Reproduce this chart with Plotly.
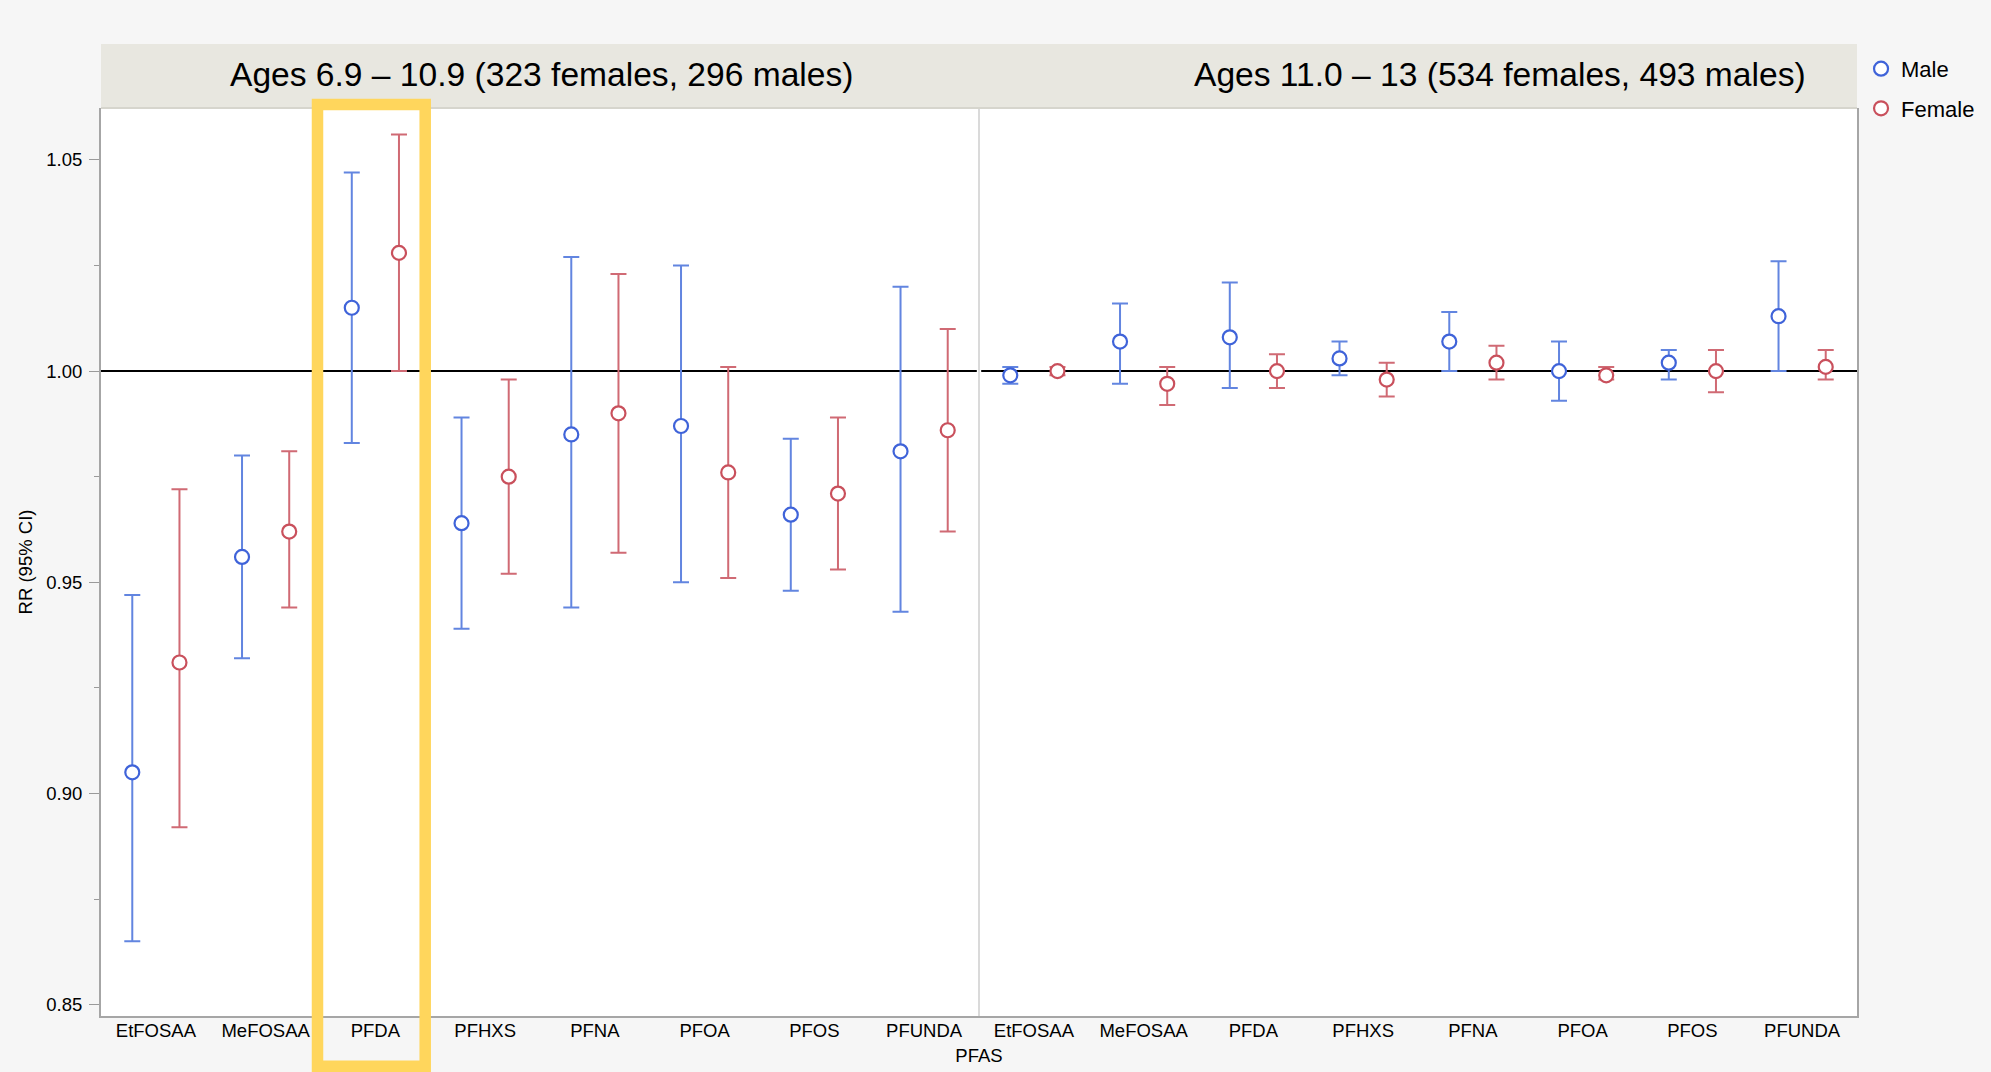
import plotly.graph_objects as go

# PFAS compounds shown in each age panel
pfas = ["EtFOSAA", "MeFOSAA", "PFDA", "PFHXS", "PFNA", "PFOA", "PFOS", "PFUNDA"]
panels = ["Ages 6.9 – 10.9 (323 females, 296 males)",
          "Ages 11.0 – 13 (534 females, 493 males)"]

# Rate ratios with 95% CI, ages 6.9-10.9
male_rr_young = [0.905, 0.956, 1.015, 0.964, 0.985, 0.987, 0.966, 0.981]
male_lo_young = [0.865, 0.932, 0.983, 0.939, 0.944, 0.950, 0.948, 0.943]
male_hi_young = [0.947, 0.980, 1.047, 0.989, 1.027, 1.025, 0.984, 1.020]
female_rr_young = [0.931, 0.962, 1.028, 0.975, 0.990, 0.976, 0.971, 0.986]
female_lo_young = [0.892, 0.944, 1.000, 0.952, 0.957, 0.951, 0.953, 0.962]
female_hi_young = [0.972, 0.981, 1.056, 0.998, 1.023, 1.001, 0.989, 1.010]

# Rate ratios with 95% CI, ages 11.0-13
male_rr_old = [0.999, 1.007, 1.008, 1.003, 1.007, 1.000, 1.002, 1.013]
male_lo_old = [0.997, 0.997, 0.996, 0.999, 1.000, 0.993, 0.998, 1.000]
male_hi_old = [1.001, 1.016, 1.021, 1.007, 1.014, 1.007, 1.005, 1.026]
female_rr_old = [1.000, 0.997, 1.000, 0.998, 1.002, 0.999, 1.000, 1.001]
female_lo_old = [0.999, 0.992, 0.996, 0.994, 0.998, 0.998, 0.995, 0.998]
female_hi_old = [1.001, 1.001, 1.004, 1.002, 1.006, 1.001, 1.005, 1.005]

y_ticks = [0.85, 0.90, 0.95, 1.00, 1.05]
y_tick_labels = ["0.85", "0.90", "0.95", "1.00", "1.05"]

BLUE_MARK = "#3f63d9"
BLUE_BAR = "#6285e0"
RED_MARK = "#c9505c"
RED_BAR = "#d06a74"
FONT = "Liberation Sans, Arial, sans-serif"

n = len(pfas)
slots = list(range(2 * n))
tick_text = pfas + pfas
offset = 0.215

def series(rr_a, lo_a, hi_a, rr_b, lo_b, hi_b):
    rr = rr_a + rr_b
    lo = lo_a + lo_b
    hi = hi_a + hi_b
    plus = [h - r for h, r in zip(hi, rr)]
    minus = [r - l for r, l in zip(rr, lo)]
    return rr, plus, minus

m_rr, m_plus, m_minus = series(male_rr_young, male_lo_young, male_hi_young,
                               male_rr_old, male_lo_old, male_hi_old)
f_rr, f_plus, f_minus = series(female_rr_young, female_lo_young, female_hi_young,
                               female_rr_old, female_lo_old, female_hi_old)

fig = go.Figure()
fig.add_trace(go.Scatter(
    x=[s - offset for s in slots], y=m_rr, mode="markers", name="Male",
    legendgroup="male",
    marker=dict(symbol="circle", size=14, color="white",
                line=dict(color=BLUE_MARK, width=2.2)),
    error_y=dict(type="data", symmetric=False, array=m_plus, arrayminus=m_minus,
                 color=BLUE_BAR, thickness=2, width=8),
))
fig.add_trace(go.Scatter(
    x=[s + offset for s in slots], y=f_rr, mode="markers", name="Female",
    legendgroup="female",
    marker=dict(symbol="circle", size=14, color="white",
                line=dict(color=RED_MARK, width=2.2)),
    error_y=dict(type="data", symmetric=False, array=f_plus, arrayminus=f_minus,
                 color=RED_BAR, thickness=2, width=8),
))

strip_top = 1 + 64 / 908
shapes = [
    # facet strip across the top of both panels
    dict(type="rect", xref="paper", yref="paper", x0=0, x1=1, y0=1, y1=strip_top,
         fillcolor="#e8e7e0", line=dict(width=0), layer="above"),
    dict(type="line", xref="paper", yref="paper", x0=0, x1=1, y0=1, y1=1,
         line=dict(color="#d6d5cd", width=2), layer="above"),
    # divider between the two age panels
    dict(type="line", xref="paper", yref="paper", x0=0.5, x1=0.5, y0=0, y1=1 + 4 / 908,
         line=dict(color="#dadada", width=2), layer="below"),
    # reference line at RR = 1
    dict(type="line", xref="x", yref="y", x0=-0.5, x1=n - 0.52, y0=1, y1=1,
         line=dict(color="black", width=2), layer="below"),
    dict(type="line", xref="x", yref="y", x0=n - 0.48, x1=2 * n - 0.5, y0=1, y1=1,
         line=dict(color="black", width=2), layer="below"),
    # highlight around PFDA in the younger age group
    dict(type="rect", xref="paper", yref="paper",
         x0=(317.5 - 101) / 1756, x1=(425.2 - 101) / 1756,
         y0=(1016 - 1066.3) / 908, y1=1 + (108 - 104.4) / 908,
         line=dict(color="#ffd65c", width=11.5), fillcolor="rgba(0,0,0,0)",
         layer="above"),
]

annotations = [
    dict(text=panels[0], xref="paper", yref="paper", x=(541 - 101) / 1756,
         y=1 + 33.5 / 908, xanchor="center", yanchor="middle", showarrow=False,
         font=dict(family=FONT, size=33.6, color="black")),
    dict(text=panels[1], xref="paper", yref="paper", x=(1500 - 101) / 1756,
         y=1 + 33.5 / 908, xanchor="center", yanchor="middle", showarrow=False,
         font=dict(family=FONT, size=33.6, color="black")),
]

fig.update_layout(
    width=1991, height=1072,
    margin=dict(l=101, r=134, t=108, b=56, autoexpand=False),
    paper_bgcolor="#f6f6f6", plot_bgcolor="white",
    font=dict(family=FONT, size=18.5, color="black"),
    shapes=shapes, annotations=annotations,
    showlegend=True,
    legend=dict(x=1.0023, xanchor="left", y=1.0662, yanchor="top",
                bgcolor="rgba(0,0,0,0)", font=dict(family=FONT, size=22),
                tracegroupgap=8),
)
fig.update_xaxes(
    range=[-0.5, 2 * n - 0.5], tickmode="array", tickvals=slots, ticktext=tick_text,
    showgrid=False, zeroline=False, showline=True, linecolor="#a6a6a6", linewidth=2,
    ticks="", ticklabelstandoff=-3, automargin=False,
    title=dict(text="PFAS", font=dict(family=FONT, size=18.5), standoff=9),
)
fig.update_yaxes(
    range=[0.8473, 1.0623], tickmode="array", tickvals=y_ticks, ticktext=y_tick_labels,
    showgrid=False, zeroline=False, showline=True, linecolor="#a6a6a6", linewidth=2,
    mirror=True, ticks="outside", ticklen=10, tickcolor="#9a9a9a", tickwidth=1,
    ticklabelstandoff=3, automargin=False,
    minor=dict(tickvals=[0.875, 0.925, 0.975, 1.025], ticks="outside", ticklen=5,
               tickcolor="#9a9a9a", tickwidth=1),
    title=dict(text="RR (95% CI)", font=dict(family=FONT, size=18.5), standoff=9),
)

fig.write_html("out.html")
